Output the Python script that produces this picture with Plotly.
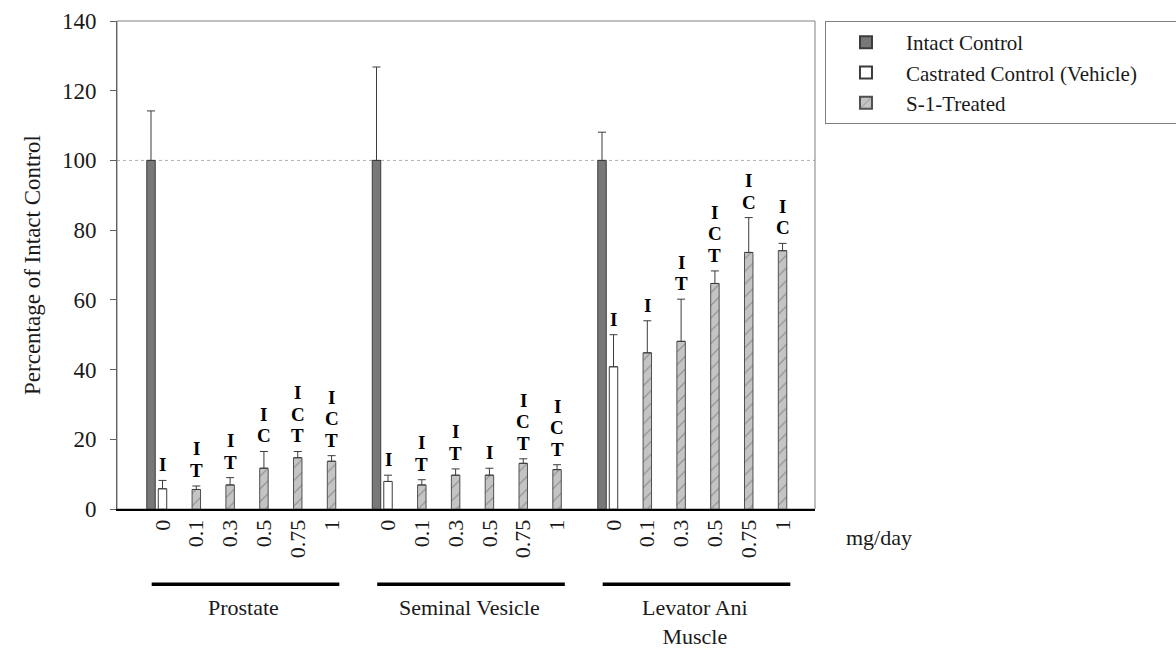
import plotly.graph_objects as go

# ---------------- data ----------------
tissues = ["Prostate", "Seminal Vesicle", "Levator Ani<br>Muscle"]
doses = ["0", "0.1", "0.3", "0.5", "0.75", "1"]

intact_mean = [100, 100, 100]
intact_err = [14.2, 26.8, 8.1]

castrated_mean = [5.8, 7.9, 40.8]
castrated_err = [2.4, 1.8, 9.2]

# S-1 treated: rows = tissues, cols = doses 0.1 .. 1
treated_mean = [
    [5.6, 6.9, 11.7, 14.7, 13.7],
    [6.9, 9.7, 9.7, 13.1, 11.3],
    [44.8, 48.1, 64.7, 73.6, 74.1],
]
treated_err = [
    [1.0, 2.1, 4.8, 1.8, 1.6],
    [1.5, 1.8, 2.0, 1.3, 1.4],
    [9.2, 12.1, 3.6, 10.0, 2.1],
]

# significance letters, listed top to bottom
castrated_sig = [["I"], ["I"], ["I"]]
treated_sig = [
    [["I", "T"], ["I", "T"], ["I", "C"], ["I", "C", "T"], ["I", "C", "T"]],
    [["I", "T"], ["I", "T"], ["I"], ["I", "C", "T"], ["I", "C", "T"]],
    [["I"], ["I", "T"], ["I", "C", "T"], ["I", "C"], ["I", "C"]],
]

# ---------------- layout helpers ----------------
GROUP_STEP = 6.67     # slot units between the "0" slots of consecutive tissues
INTACT_SHIFT = -0.34  # intact bar sits left of castrated bar
BAR_W = 0.25
FONT = "Liberation Serif, Times New Roman, serif"
TXT = "#1a1a1a"


def pos(g, d):
    return g * GROUP_STEP + d


fig = go.Figure()

err_style = dict(type="data", symmetric=False, color="#3c3c3c", thickness=1, width=4)

fig.add_trace(go.Bar(
    name="Intact Control",
    x=[pos(g, 0) + INTACT_SHIFT for g in range(3)],
    y=intact_mean,
    width=BAR_W,
    marker=dict(color="#787878", line=dict(color="#3c3c3c", width=1)),
    error_y=dict(array=intact_err, arrayminus=[0] * 3, **err_style),
))

fig.add_trace(go.Bar(
    name="Castrated Control (Vehicle)",
    x=[pos(g, 0) for g in range(3)],
    y=castrated_mean,
    width=BAR_W,
    marker=dict(color="white", line=dict(color="#3c3c3c", width=1)),
    error_y=dict(array=castrated_err, arrayminus=[0] * 3, **err_style),
))

tx, ty, te = [], [], []
for g in range(3):
    for d in range(5):
        tx.append(pos(g, d + 1))
        ty.append(treated_mean[g][d])
        te.append(treated_err[g][d])
fig.add_trace(go.Bar(
    name="S-1-Treated",
    x=tx, y=ty, width=BAR_W,
    marker=dict(color="#c4c4c4", line=dict(color="#505050", width=1),
                pattern=dict(shape="/", fgcolor="#505050", bgcolor="#c4c4c4",
                             size=9, solidity=0.12)),
    error_y=dict(array=te, arrayminus=[0] * len(te), **err_style),
))

# significance letters
annotations = []
letter_font = dict(family=FONT, size=19, color="black")
LINE = 21.5


def add_letters(x, top, letters):
    n = len(letters)
    for i, ch in enumerate(letters):
        k = n - 1 - i  # 0 = bottom letter
        annotations.append(dict(
            x=x, y=top, xref="x", yref="y", text="<b>" + ch + "</b>",
            showarrow=False, yanchor="bottom", yshift=3 + k * LINE,
            font=letter_font))


for g in range(3):
    add_letters(pos(g, 0), castrated_mean[g] + castrated_err[g], castrated_sig[g])
    for d in range(5):
        add_letters(pos(g, d + 1), treated_mean[g][d] + treated_err[g][d], treated_sig[g][d])

# tissue group labels
for g, name in enumerate(tissues):
    annotations.append(dict(
        x=pos(g, 2.4), y=-0.172, xref="x", yref="paper", text=name,
        showarrow=False, yanchor="top", font=dict(family=FONT, size=22, color=TXT)))

annotations.append(dict(
    x=1.041, y=-0.058, xref="paper", yref="paper", text="mg/day", showarrow=False,
    xanchor="left", yanchor="middle", font=dict(family=FONT, size=22, color=TXT)))

shapes = []
shapes.append(dict(type="line", xref="paper", yref="y", x0=0, x1=1, y0=100, y1=100,
                   line=dict(color="#b0b0b0", width=1, dash="dot"), layer="below"))
shapes.append(dict(type="rect", xref="paper", yref="paper", x0=0, x1=1, y0=0, y1=1,
                   line=dict(color="#808080", width=1), layer="below"))
for g in range(3):
    shapes.append(dict(type="line", xref="x", yref="paper",
                       x0=pos(g, -0.32), x1=pos(g, 5.23), y0=-0.154, y1=-0.154,
                       line=dict(color="black", width=3.5)))

tickvals = [pos(g, d) for g in range(3) for d in range(6)]
ticktext = doses * 3

fig.update_layout(
    width=1176, height=650,
    margin=dict(l=117, r=361, t=21, b=141, autoexpand=False),
    paper_bgcolor="white", plot_bgcolor="white",
    barmode="overlay",
    font=dict(family=FONT, size=21, color=TXT),
    showlegend=True,
    legend=dict(x=1.0143, xanchor="left", y=1.0, yanchor="top",
                orientation="h",
                bordercolor="#808080", borderwidth=1, bgcolor="white",
                font=dict(family=FONT, size=21, color=TXT),
                entrywidth=300, entrywidthmode="pixels",
                itemwidth=70,
                tracegroupgap=0, itemsizing="constant"),
    annotations=annotations,
    shapes=shapes,
    xaxis=dict(range=[-1.346, 19.30], tickvals=tickvals, ticktext=ticktext,
               tickangle=-90, showgrid=False, zeroline=False,
               showline=True, linecolor="black", linewidth=2, ticks="",
               tickfont=dict(family=FONT, size=22, color=TXT)),
    yaxis=dict(range=[0, 140], dtick=20, showgrid=False, zeroline=False,
               showline=True, linecolor="#606060", linewidth=1,
               ticks="outside", ticklen=6, tickcolor="#606060",
               ticklabelstandoff=9,
               tickfont=dict(family=FONT, size=23, color=TXT),
               title=dict(text="Percentage of Intact Control", standoff=14,
                          font=dict(family=FONT, size=23, color=TXT))),
)

fig.write_html("out.html", config={"displayModeBar": False},
               post_script="document.body.style.margin='0px';")
